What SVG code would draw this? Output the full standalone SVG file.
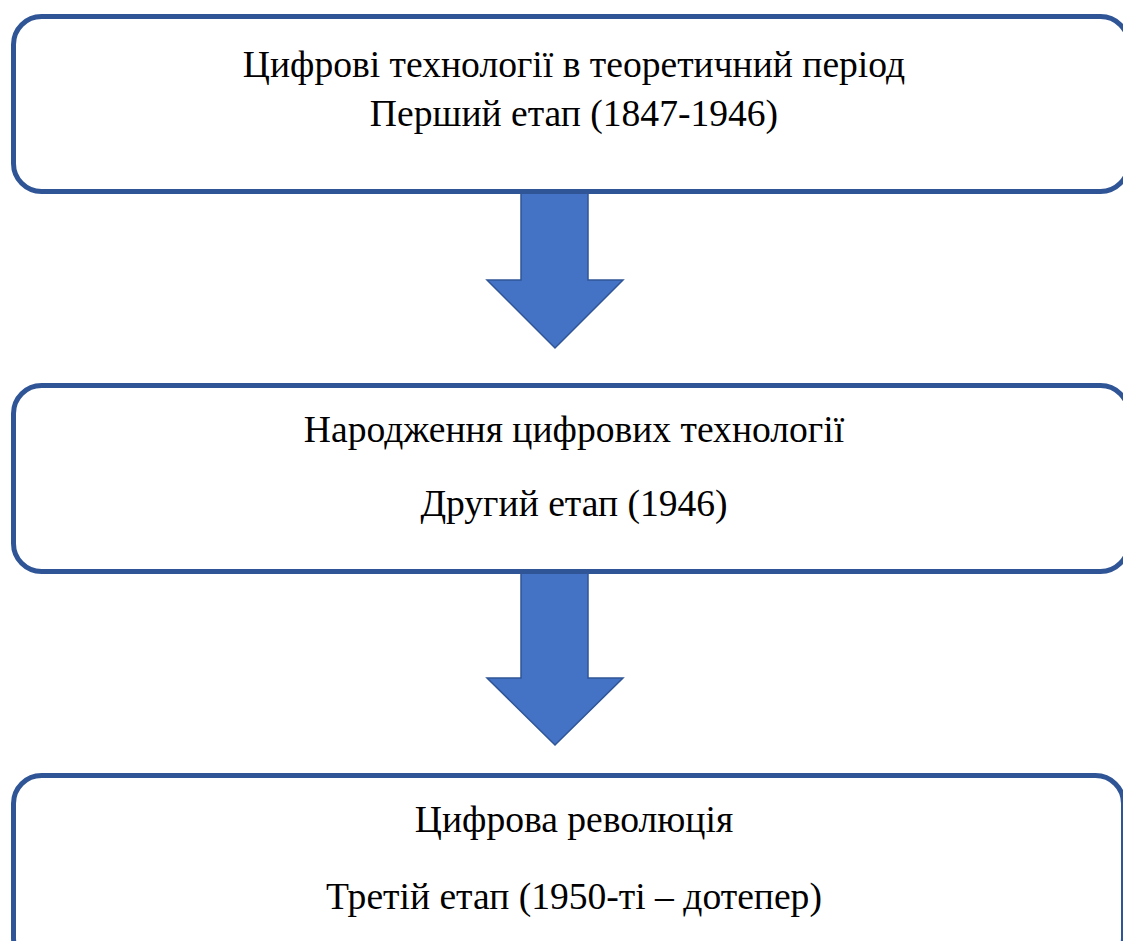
<svg xmlns="http://www.w3.org/2000/svg" width="1123" height="941" viewBox="0 0 1123 941">
<style>
.box{fill:#FFFFFF;stroke:#2F5597;stroke-width:5}
.arr{fill:#4472C4;stroke:#2F5597;stroke-width:1.5;stroke-linejoin:miter}
.lbl{font-family:'Liberation Serif','Times New Roman',serif;font-size:37.6px;fill:#000000}
</style>
<rect width="1123" height="941" fill="#FFFFFF"/>
<g id="connectors">
<path class="arr" d="M521,190 L588,190 L588,280 L623,280 L555,348 L487,280 L521,280 Z"/>
<path class="arr" d="M521,572 L588,572 L588,678 L623,678 L555,745 L487,678 L521,678 Z"/>
</g>
<g id="node1">
<rect class="box" x="13.5" y="16.5" width="1115" height="175" rx="28" ry="28"/>
<g class="lbl" font-family="Liberation Serif" text-anchor="middle">
<text x="574" y="77">Цифрові технології в теоретичний період</text>
<text x="574" y="126">Перший етап (1847-1946)</text>
</g>
</g>
<g id="node2">
<rect class="box" x="13.5" y="385.5" width="1115" height="186" rx="28" ry="28"/>
<g class="lbl" font-family="Liberation Serif" text-anchor="middle">
<text x="574" y="442">Народження цифрових технології</text>
<text x="574" y="516">Другий етап (1946)</text>
</g>
</g>
<g id="node3">
<rect class="box" x="13.5" y="775.5" width="1110" height="190" rx="28" ry="28"/>
<g class="lbl" font-family="Liberation Serif" text-anchor="middle">
<text x="574" y="832">Цифрова революція</text>
<text x="574" y="909">Третій етап (1950-ті – дотепер)</text>
</g>
</g>
</svg>
